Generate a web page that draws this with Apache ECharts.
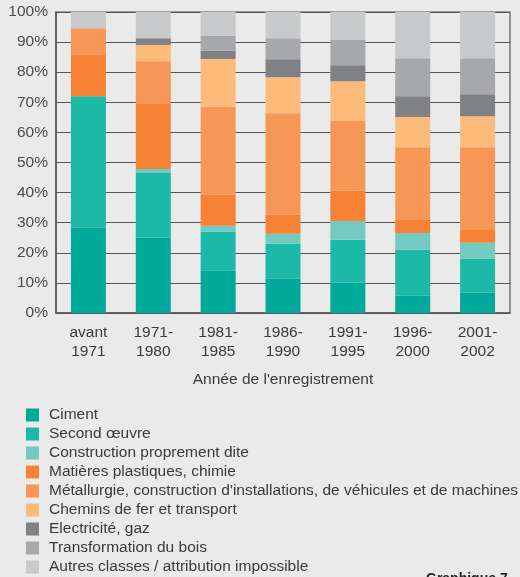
<!DOCTYPE html>
<html>
<head>
<meta charset="utf-8">
<script src="https://cdn.jsdelivr.net/npm/echarts@6/dist/echarts.min.js"></script>
<style>
  html, body { margin: 0; padding: 0; background: #e9eae9; }
  #main { width: 520px; height: 577px; }
</style>
</head>
<body>
<div id="main"></div>
<script>
// catégories (axe x)
const periodes = ['avant\n1971', '1971-\n1980', '1981-\n1985', '1986-\n1990', '1991-\n1995', '1996-\n2000', '2001-\n2002']
const yTicks = [0, 10, 20, 30, 40, 50, 60, 70, 80, 90, 100]

// parts en % par classe
const ciment = [28.3, 25.0, 14.0, 11.4, 10.1, 5.7, 6.7]
const secondOeuvre = [43.7, 21.5, 13.0, 11.6, 14.2, 15.3, 11.3]
const construction = [0, 1.3, 2.0, 3.3, 6.3, 5.6, 5.3]
const plastiques = [14.0, 21.6, 10.3, 6.3, 10.0, 4.3, 4.3]
const metallurgie = [8.6, 14.2, 29.2, 33.8, 23.2, 24.2, 27.5]
const cheminsFer = [0, 5.4, 15.9, 11.9, 13.2, 10.0, 10.3]
const electricite = [0, 2.3, 2.7, 6.0, 5.3, 6.9, 7.3]
const bois = [0, 0, 5.0, 7.0, 8.6, 12.6, 11.9]
const autres = [5.4, 8.7, 8.1, 8.7, 9.1, 15.4, 15.4]

const series = [
  { name: 'Ciment', data: ciment, color: '#00a99a' },
  { name: 'Second œuvre', data: secondOeuvre, color: '#1cb9a8' },
  { name: 'Construction proprement dite', data: construction, color: '#72cac2' },
  { name: 'Matières plastiques, chimie', data: plastiques, color: '#f58235' },
  { name: "Métallurgie, construction d'installations, de véhicules et de machines", data: metallurgie, color: '#f79757' },
  { name: 'Chemins de fer et transport', data: cheminsFer, color: '#fdbb7b' },
  { name: 'Electricité, gaz', data: electricite, color: '#808184' },
  { name: 'Transformation du bois', data: bois, color: '#a7a8ab' },
  { name: 'Autres classes / attribution impossible', data: autres, color: '#c8c9ca' }
]

const myChart = echarts.init(document.getElementById('main'))
const font = 'Liberation Sans, Arial, sans-serif'
const fs = 15.5

const option = {
  backgroundColor: '#e9eae9',
  textStyle: { fontFamily: font },
  animation: false,
  grid: {
    left: 56,
    right: 10,
    top: 12,
    bottom: 264,
    show: true,
    borderColor: '#555',
    borderWidth: 1.2,
    backgroundColor: 'transparent'
  },
  legend: {
    orient: 'vertical',
    left: 26,
    top: 407,
    padding: 0,
    itemWidth: 13,
    itemHeight: 13,
    itemGap: 3,
    icon: 'rect',
    textStyle: { fontSize: fs, lineHeight: 16, color: '#3a3a3a', fontFamily: font, padding: [0, 0, 0, 5] },
    data: series.map((s) => s.name)
  },
  graphic: [
    {
      type: 'text',
      left: 426,
      top: 572,
      style: { text: 'Graphique 7', fontSize: 14, fontWeight: 'bold', fill: '#222', fontFamily: font }
    }
  ],
  xAxis: {
    type: 'category',
    data: periodes,
    name: "Année de l'enregistrement",
    nameLocation: 'middle',
    nameGap: 59,
    nameTextStyle: { fontSize: fs, color: '#3a3a3a' },
    axisLine: { lineStyle: { color: '#555', width: 1.5 } },
    axisTick: { show: false },
    axisLabel: { interval: 0, fontSize: fs, color: '#3a3a3a', lineHeight: 19, margin: 10 }
  },
  yAxis: {
    type: 'value',
    min: yTicks[0],
    max: yTicks[yTicks.length - 1],
    interval: 10,
    axisLine: { show: true, lineStyle: { color: '#555', width: 1.5 } },
    axisTick: { show: false },
    axisLabel: { formatter: '{value}%', fontSize: fs, color: '#4a4a4a', margin: 8 },
    splitLine: { lineStyle: { color: '#555', width: 1.2 } }
  },
  series: series.map((s) => ({
    name: s.name,
    type: 'bar',
    stack: 'total',
    barWidth: 35,
    itemStyle: { color: s.color },
    data: s.data
  }))
}

myChart.setOption(option)
</script>
</body>
</html>
